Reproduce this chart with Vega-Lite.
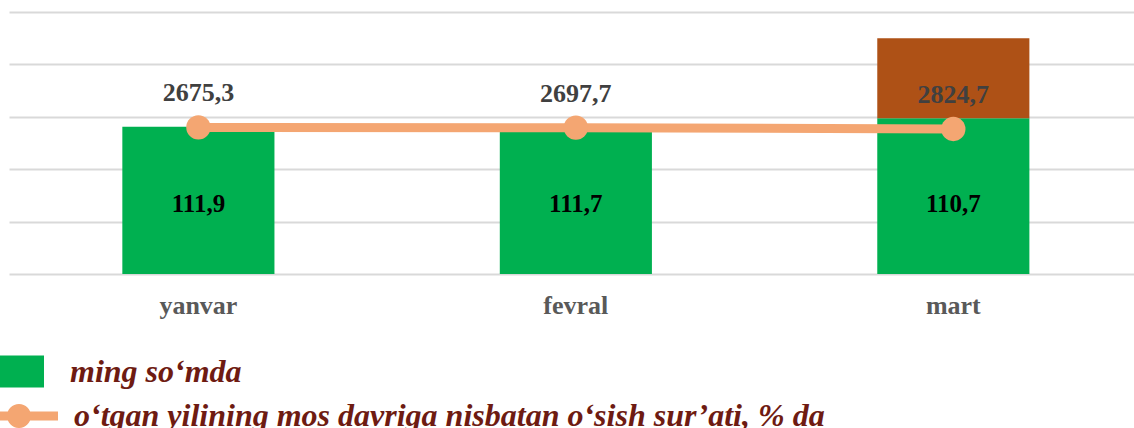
{
  "$schema": "https://vega.github.io/schema/vega-lite/v6.json",
  "autosize": {"type": "none"},
  "width": 1125,
  "height": 262,
  "padding": {"left": 9, "top": 12, "right": 0, "bottom": 154},
  "background": "white",
  "config": {
    "view": {"stroke": null},
    "locale": {"number": {"decimal": ",", "thousands": " ", "grouping": [3], "currency": ["", ""]}}
  },
  "data": {
    "values": [
      {"month": "yanvar", "bar_height": 281, "bar_top": null, "sum": 2675.3, "pct": 111.9},
      {"month": "fevral", "bar_height": 283, "bar_top": null, "sum": 2697.7, "pct": 111.7},
      {"month": "mart", "bar_height": 297, "bar_top": 450, "sum": 2824.7, "pct": 110.7}
    ]
  },
  "encoding": {
    "x": {
      "field": "month", "type": "nominal", "sort": null,
      "scale": {"paddingInner": 0.597, "paddingOuter": 0.2887, "align": 0.52},
      "axis": {
        "title": null, "labelAngle": 0, "ticks": false, "domain": false,
        "labelFont": "Liberation Serif", "labelFontSize": 26, "labelFontWeight": "bold",
        "labelColor": "#595959", "labelBaseline": "alphabetic", "labelPadding": 39
      }
    }
  },
  "layer": [
    {
      "layer": [
        {
          "mark": {"type": "bar"},
          "encoding": {
            "y": {
              "field": "bar_height", "type": "quantitative",
              "scale": {"domain": [0, 500]},
              "axis": {
                "title": null, "labels": false, "ticks": false, "domain": false,
                "grid": true, "gridColor": "#D9D9D9", "gridWidth": 2,
                "values": [0, 100, 200, 300, 400, 500]
              }
            },
            "fill": {
              "datum": "ming so‘mda", "type": "nominal",
              "scale": {"range": ["#00B050"]},
              "legend": {
                "title": null, "orient": "none", "legendX": -9, "legendY": 337.5,
                "padding": 0,
                "symbolType": "M-1,-0.727 H1 V0.727 H-1 Z",
                "symbolSize": 1936, "symbolStrokeWidth": 0,
                "labelOffset": 26,
                "labelFont": "Liberation Serif", "labelFontSize": 32,
                "labelFontStyle": "italic", "labelFontWeight": "bold",
                "labelColor": "#6E1B12", "labelLimit": 0
              }
            }
          }
        },
        {
          "transform": [{"filter": "datum.bar_top != null"}],
          "mark": {"type": "bar", "color": "#AE5116"},
          "encoding": {
            "y": {"field": "bar_top", "type": "quantitative"},
            "y2": {"field": "bar_height"}
          }
        },
        {
          "mark": {
            "type": "text", "font": "Liberation Serif", "fontSize": 25,
            "fontWeight": "bold", "color": "#000000", "baseline": "alphabetic"
          },
          "encoding": {
            "y": {"datum": 118, "type": "quantitative"},
            "text": {"field": "pct", "type": "quantitative", "format": ".1f"}
          }
        }
      ]
    },
    {
      "encoding": {
        "y": {"field": "pct", "type": "quantitative", "scale": {"domain": [0, 200]}, "axis": null}
      },
      "layer": [
        {
          "mark": {"type": "line", "strokeWidth": 9},
          "encoding": {
            "stroke": {
              "datum": "o‘tgan yilining mos davriga nisbatan o‘sish sur’ati, % da", "type": "nominal",
              "scale": {"range": ["#F4A672"]},
              "legend": {
                "title": null, "orient": "none", "legendX": -9, "legendY": 375,
                "padding": 0,
                "symbolType": "M-1,-0.155 H1 V0.155 H-1 Z M-0.759,0 A0.414,0.414 0 1,1 0.069,0 A0.414,0.414 0 1,1 -0.759,0 Z",
                "symbolSize": 3364, "symbolStrokeWidth": 0,
                "symbolFillColor": "#F4A672",
                "labelOffset": 16,
                "labelFont": "Liberation Serif", "labelFontSize": 32,
                "labelFontStyle": "italic", "labelFontWeight": "bold",
                "labelColor": "#6E1B12", "labelLimit": 0,
                "encode": {"symbols": {"update": {"fill": {"value": "#F4A672"}, "strokeWidth": {"value": 0}}}}
              }
            }
          }
        },
        {
          "mark": {"type": "circle", "color": "#F4A672", "size": 590, "opacity": 1}
        },
        {
          "mark": {
            "type": "text", "font": "Liberation Serif", "fontSize": 26,
            "fontWeight": "bold", "color": "#404040", "baseline": "alphabetic", "dy": -26
          },
          "encoding": {
            "text": {"field": "sum", "type": "quantitative", "format": ".1f"}
          }
        }
      ]
    }
  ],
  "resolve": {"scale": {"y": "independent"}}
}
